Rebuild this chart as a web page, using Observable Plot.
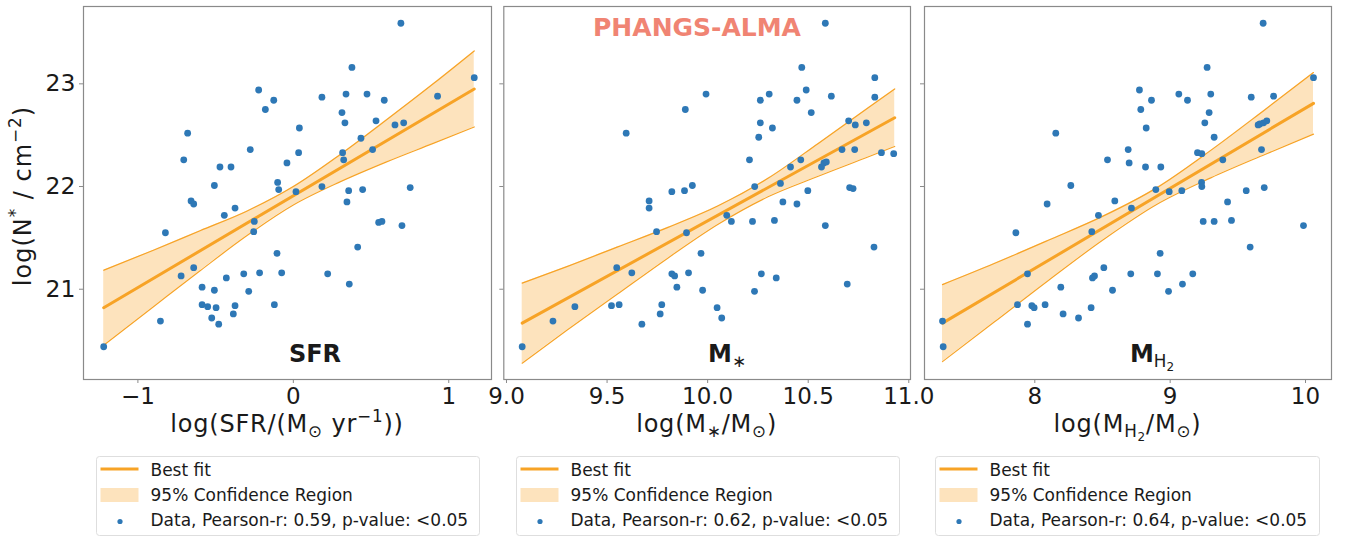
<!DOCTYPE html>
<html><head><meta charset="utf-8">
<script src="https://cdn.jsdelivr.net/npm/d3@7"></script>
<script src="https://cdn.jsdelivr.net/npm/@observablehq/plot@0.6"></script>
<style>
body{margin:0;background:#fff;}
#root{position:relative;width:1351px;height:538px;overflow:hidden;background:#fff;font-family:"DejaVu Sans",sans-serif;}
#root svg{position:absolute;left:0;top:0;}
</style></head><body><div id="root"></div>
<script>
// ---------- data ----------
const sfrX = [-1.22,-0.855,-0.823,-0.722,-0.705,-0.68,-0.658,-0.641,-0.641,-0.587,-0.587,-0.551,-0.525,-0.508,-0.508,-0.497,-0.48,-0.472,-0.444,-0.431,-0.401,-0.386,-0.375,-0.375,-0.319,-0.287,-0.277,-0.251,-0.255,-0.223,-0.217,-0.18,-0.126,-0.122,-0.105,-0.101,-0.094,-0.075,-0.041,0.017,0.034,0.039,0.184,0.184,0.221,0.313,0.317,0.324,0.332,0.339,0.345,0.356,0.36,0.377,0.414,0.435,0.446,0.474,0.51,0.532,0.549,0.57,0.585,0.654,0.692,0.699,0.71,0.752,0.928,1.164];
const sfrY = [20.44,20.69,21.55,21.13,22.26,22.52,21.86,21.83,21.21,21.02,20.85,20.83,20.72,20.99,22.01,20.82,20.66,22.19,21.72,21.11,22.19,20.76,20.84,21.79,21.15,20.98,22.36,21.66,21.56,22.94,21.16,22.75,22.84,20.85,21.35,22.04,21.97,21.16,22.23,21.95,22.33,22.57,22.87,22.0,21.15,22.72,22.33,22.26,22.62,22.90,21.85,21.96,21.05,23.16,21.41,22.47,21.97,22.90,22.36,22.64,21.65,21.66,22.84,22.60,23.59,21.62,22.62,21.99,22.88,23.06];
const sfrFitX = [-1.22, 1.164];
const sfrFitY = [20.82, 22.95];
const sfrBandX  = [-1.22, -0.9, -0.6, -0.3, 0, 0.3, 0.6, 0.9, 1.164];
const sfrBandLo = [20.455, 20.83, 21.18, 21.52, 21.82, 22.045, 22.24, 22.42, 22.58];
const sfrBandHi = [21.185, 21.38, 21.57, 21.76, 22.00, 22.31, 22.65, 23.0, 23.32];

const mstarX = [9.078,9.231,9.34,9.522,9.548,9.56,9.595,9.623,9.673,9.709,9.709,9.746,9.764,9.772,9.822,9.822,9.836,9.847,9.885,9.889,9.895,9.905,9.924,9.967,9.975,9.992,10.047,10.07,10.095,10.118,10.208,10.223,10.233,10.234,10.254,10.262,10.262,10.267,10.306,10.322,10.332,10.341,10.362,10.374,10.412,10.444,10.444,10.463,10.468,10.49,10.498,10.515,10.566,10.578,10.585,10.585,10.59,10.615,10.668,10.694,10.701,10.706,10.723,10.731,10.734,10.789,10.827,10.831,10.831,10.864,10.925];
const mstarY = [20.44,20.69,20.83,20.84,21.21,20.85,22.52,21.16,20.66,21.86,21.79,21.56,20.76,20.85,21.95,21.15,21.13,21.02,21.96,22.75,21.55,21.16,22.01,21.35,20.99,22.90,20.82,20.72,21.72,21.66,22.26,21.66,20.98,22.0,22.48,22.84,22.62,21.15,22.90,22.57,21.67,21.11,22.03,21.85,22.19,22.84,21.83,22.26,23.16,22.94,21.96,22.72,22.19,22.23,23.59,21.62,22.24,22.88,22.36,21.05,22.64,21.99,21.98,22.36,22.60,22.62,21.41,23.06,22.87,22.33,22.32];
const mstarFitX = [9.078, 10.93];
const mstarFitY = [20.67, 22.67];
const mstarBandX  = [9.078, 9.3, 9.55, 9.8, 10.05, 10.3, 10.55, 10.8, 10.93];
const mstarBandLo = [20.28, 20.60, 20.95, 21.30, 21.63, 21.90, 22.10, 22.29, 22.39];
const mstarBandHi = [21.06, 21.22, 21.41, 21.60, 21.81, 22.08, 22.42, 22.77, 22.95];

const mh2X = [7.318,7.323,7.86,7.872,7.946,7.946,7.978,7.995,8.076,8.091,8.155,8.192,8.209,8.266,8.323,8.416,8.421,8.426,8.441,8.47,8.51,8.537,8.574,8.591,8.69,8.697,8.709,8.714,8.773,8.783,8.818,8.823,8.862,8.894,8.906,8.926,8.931,8.988,8.993,9.064,9.086,9.091,9.128,9.167,9.202,9.232,9.234,9.234,9.244,9.256,9.273,9.288,9.3,9.325,9.325,9.389,9.424,9.453,9.562,9.591,9.599,9.65,9.663,9.675,9.687,9.695,9.69,9.714,9.764,9.985,10.059];
const mh2Y = [20.69,20.44,21.55,20.85,21.15,20.66,20.84,20.82,20.85,21.83,22.52,21.02,20.76,22.01,20.72,20.82,21.56,21.11,21.13,21.72,21.21,22.26,20.99,21.86,22.36,22.23,21.15,21.79,22.94,22.75,22.19,22.57,22.84,21.97,21.15,21.35,22.19,20.98,21.95,22.90,21.96,21.05,22.84,21.15,22.33,22.04,22.0,22.32,21.66,22.62,23.16,22.72,22.90,22.48,21.66,22.26,21.85,21.67,21.96,21.41,22.87,22.60,22.61,22.36,23.59,21.99,22.62,22.64,22.88,21.62,23.06];
const mh2FitX = [7.318, 10.059];
const mh2FitY = [20.67, 22.81];
const mh2BandX  = [7.318, 7.7, 8.1, 8.5, 8.9, 9.3, 9.7, 10.059];
const mh2BandLo = [20.295, 20.68, 21.085, 21.477, 21.825, 22.084, 22.312, 22.51];
const mh2BandHi = [21.045, 21.25, 21.477, 21.709, 21.987, 22.352, 22.748, 23.11];

const yTicks = [21, 22, 23];
const sfrTicks = [-1, 0, 1];
const mstarTicks = [9.0, 9.5, 10.0, 10.5, 11.0];
const mh2Ticks = [8, 9, 10];
const pearsonR = ["0.59", "0.62", "0.64"];
const legendLabels = ["Best fit", "95% Confidence Region"];

// ---------- styling ----------
const W = 1351, H = 450;
const FONT = '"DejaVu Sans", sans-serif';
const ORANGE = "#f7a326";
const BLUE = "#2e78b6";
const GRAY = "#8a8a8a";
const INK = "#1a1a1a";
const yDomain = [20.121, 23.753];
const frameTop = 6, frameBottom = 379;
const minus = d => d < 0 ? "\u2212" + Math.abs(d) : String(d);

const panels = [
  {left: 83, right: 491, xDomain: [-1.35, 1.275], ticks: sfrTicks, fmt: minus, showY: true,
   X: sfrX, Y: sfrY, fx: sfrFitX, fy: sfrFitY, bx: sfrBandX, lo: sfrBandLo, hi: sfrBandHi,
   xlabel: [["log(SFR/(M","n"],["\u2299","sub"],[" yr","n"],["\u22121","sup"],["))","n"]],
   tag: [["SFR","n"]], tagX: 315},
  {left: 503.3, right: 910, xDomain: [8.9866, 11.0085], ticks: mstarTicks, fmt: d => d.toFixed(1), showY: false,
   X: mstarX, Y: mstarY, fx: mstarFitX, fy: mstarFitY, bx: mstarBandX, lo: mstarBandLo, hi: mstarBandHi,
   xlabel: [["log(M","n"],["\u2217","sub"],["/M","n"],["\u2299","sub"],[")","n"]],
   tag: [["M","n"],["\u2217","sub","normal"]], tagX: 727},
  {left: 924, right: 1331, xDomain: [7.185, 10.192], ticks: mh2Ticks, fmt: d => String(d), showY: false,
   X: mh2X, Y: mh2Y, fx: mh2FitX, fy: mh2FitY, bx: mh2BandX, lo: mh2BandLo, hi: mh2BandHi,
   xlabel: [["log(M","n"],["H","sub"],["2","subsub"],["/M","n"],["\u2299","sub"],[")","n"]],
   tag: [["M","n"],["H","sub","normal"],["2","subsub","normal"]], tagX: 1152}
];

function rich(svg, parts, {x, y, size, weight = "normal", anchor = "middle", rotate = 0, fill = INK, spacing = 0}) {
  const t = svg.append("text")
    .attr("text-anchor", anchor).attr("font-family", FONT)
    .attr("font-size", size).attr("font-weight", weight).attr("fill", fill)
    .attr("letter-spacing", spacing)
    .attr("transform", `translate(${x},${y}) rotate(${rotate})`);
  let shift = 0;
  for (const [s, kind, w] of parts) {
    const target = kind === "sub" ? size * 0.22 : kind === "sup" ? -size * 0.42 : kind === "subsub" ? size * 0.36 : 0;
    const fs = kind === "n" ? size : kind === "subsub" ? size * 0.5 : size * 0.7;
    const ts = t.append("tspan").attr("dy", target - shift).attr("font-size", fs).text(s);
    if (w) ts.attr("font-weight", w);
    shift = target;
  }
  return t;
}

const root = document.getElementById("root");

panels.forEach((p, i) => {
  const pts = p.X.map((x, j) => ({x, y: p.Y[j]}));
  const band = p.bx.map((x, j) => ({x, lo: p.lo[j], hi: p.hi[j]}));
  const fit = p.fx.map((x, j) => ({x, y: p.fy[j]}));
  const chart = Plot.plot({
    width: W, height: H,
    marginLeft: p.left, marginRight: W - p.right, marginTop: frameTop, marginBottom: H - frameBottom,
    style: {background: "none", fontFamily: FONT, overflow: "visible"},
    x: {domain: p.xDomain},
    y: {domain: yDomain},
    marks: [
      Plot.areaY(band, {x: "x", y1: "lo", y2: "hi", fill: ORANGE, fillOpacity: 0.3, curve: "monotone-x"}),
      Plot.line(band, {x: "x", y: "lo", stroke: ORANGE, strokeWidth: 1.2, curve: "monotone-x"}),
      Plot.line(band, {x: "x", y: "hi", stroke: ORANGE, strokeWidth: 1.2, curve: "monotone-x"}),
      Plot.line(fit, {x: "x", y: "y", stroke: ORANGE, strokeWidth: 3}),
      Plot.dot(pts, {x: "x", y: "y", r: 3.4, fill: BLUE, stroke: "none"}),
      Plot.frame({stroke: GRAY, strokeWidth: 1.2}),
      Plot.axisX({ticks: p.ticks, tickFormat: p.fmt, tickSize: 4, tickPadding: 4, fontSize: 23,
                  stroke: GRAY, fill: INK, label: null}),
      Plot.axisY({ticks: yTicks, tickFormat: p.showY ? (d => String(d)) : (() => ""), tickSize: 4, tickPadding: 4,
                  fontSize: 23.5, stroke: GRAY, fill: INK, label: null})
    ]
  });
  root.appendChild(chart);
  const svg = d3.select(chart);
  const cx = (p.left + p.right) / 2;
  rich(svg, p.xlabel, {x: cx, y: 432, size: 24, spacing: 0.8});
  rich(svg, p.tag, {x: p.tagX, y: 362, size: 24, weight: "bold"});
  if (i === 0) {
    rich(svg, [["log(N","n"],["*","sup"],[" / cm","n"],["\u22122","sup"],[")","n"]],
         {x: 31, y: 196, size: 24, rotate: -90, spacing: 1});
  }
  if (i === 1) {
    rich(svg, [["PHANGS-ALMA","n"]], {x: 697, y: 36, size: 25, weight: "bold", fill: "#f08473"});
  }
});

// ---------- legends ----------
const leg = d3.select(root).append("svg")
  .attr("width", W).attr("height", 88)
  .style("top", "450px");
const boxes = [{x: 96, w: 383}, {x: 516, w: 383}, {x: 935, w: 384}];
boxes.forEach((b, i) => {
  const g = leg.append("g").attr("transform", `translate(${b.x},0)`);
  g.append("rect").attr("x", 0.5).attr("y", 6.5).attr("width", b.w).attr("height", 79).attr("rx", 3)
    .attr("fill", "#fff").attr("stroke", "#dedede");
  g.append("line").attr("x1", 4.5).attr("x2", 42.5).attr("y1", 19).attr("y2", 19)
    .attr("stroke", ORANGE).attr("stroke-width", 3);
  g.append("rect").attr("x", 4.5).attr("y", 38).attr("width", 38).attr("height", 14)
    .attr("fill", ORANGE).attr("fill-opacity", 0.3);
  g.append("circle").attr("cx", 24).attr("cy", 71.5).attr("r", 2.6).attr("fill", BLUE);
  const labels = [legendLabels[0], legendLabels[1], `Data, Pearson-r: ${pearsonR[i]}, p-value: <0.05`];
  const ys = [26, 50.7, 76];
  labels.forEach((s, k) => {
    g.append("text").attr("x", 54.5).attr("y", ys[k]).attr("font-family", FONT).attr("font-size", 17)
      .attr("fill", INK).text(s);
  });
});
</script></body></html>
